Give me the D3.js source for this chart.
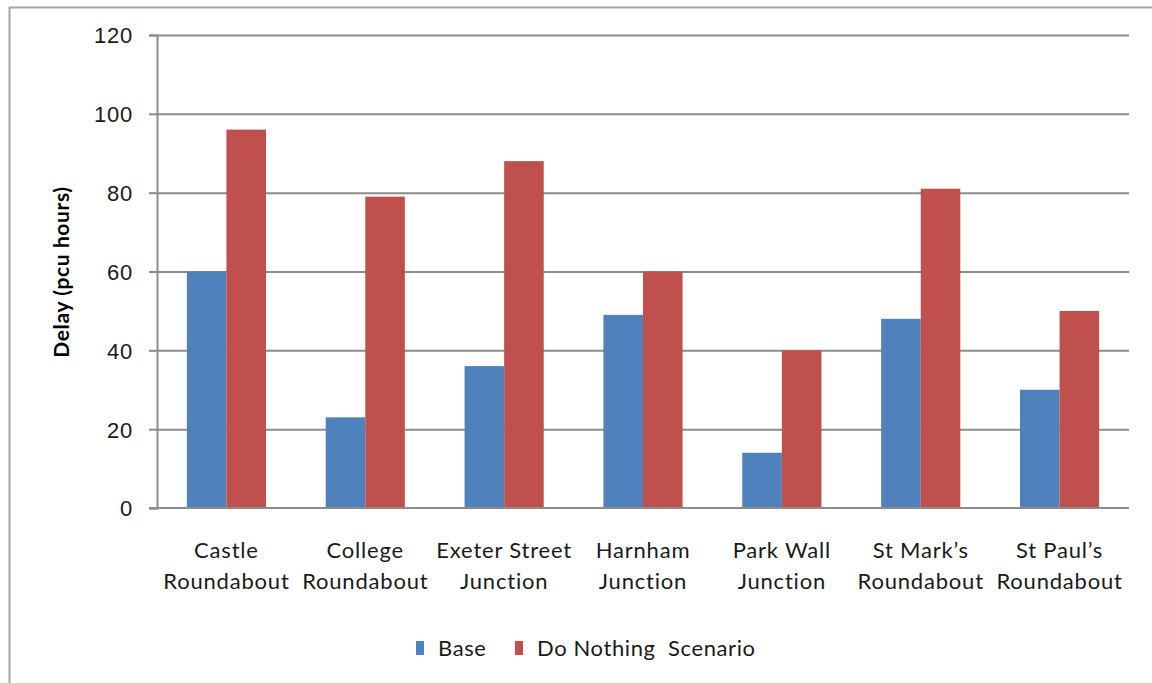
<!DOCTYPE html>
<html>
<head>
<meta charset="utf-8">
<script src="https://cdn.jsdelivr.net/npm/d3@7"></script>
<style>
  body { margin: 0; background: #fff; }
  svg { display: block; font-family: Lato, "Open Sans", sans-serif; }
</style>
</head>
<body>
<div id="chart-container"></div>
<script>
// junction names (two lines each) and delay per scenario, pcu hours
let categories = [
    ["Castle", "Roundabout"],
    ["College", "Roundabout"],
    ["Exeter Street", "Junction"],
    ["Harnham", "Junction"],
    ["Park Wall", "Junction"],
    ["St Mark\u2019s", "Roundabout"],
    ["St Paul\u2019s", "Roundabout"]
];
let seriesNames = ["Base", "Do Nothing  Scenario"];
let baseValues = [60, 23, 36, 49, 14, 48, 30];
let doNothingValues = [96, 79, 88, 60, 40, 81, 50];
let yTicks = [0, 20, 40, 60, 80, 100, 120];
let colors = ["#4F81BD", "#C0504D"];

let width = 1152, height = 683,
    plot = { left: 157, right: 1129, top: 35, bottom: 508 };

let svg = d3.select("#chart-container").append("svg")
    .attr("width", width).attr("height", height);

// outer chart frame
svg.append("path")
    .attr("d", `M9.5,${height}V7.5H${width}`)
    .attr("fill", "none").attr("stroke", "#a6a6a6").attr("stroke-width", 2);

let x0 = d3.scaleBand().domain(d3.range(categories.length))
    .range([plot.left, plot.right]).paddingInner(0.43).paddingOuter(0.215);
let x1 = d3.scaleBand().domain([0, 1]).range([0, x0.bandwidth()]);
let y = d3.scaleLinear().domain([0, 120]).range([plot.bottom, plot.top]);

// gridlines + y axis
let yAxis = svg.append("g")
    .attr("transform", `translate(${plot.left},0)`)
    .call(d3.axisLeft(y).tickValues(yTicks).tickSize(8).tickPadding(16).tickFormat(d3.format("d")));
yAxis.select(".domain").attr("stroke", "#8c8c8c").attr("stroke-width", 2);
yAxis.selectAll(".tick line").attr("stroke", "#8c8c8c").attr("stroke-width", 2);
yAxis.selectAll(".tick text").attr("fill", "#1a1a1a").attr("font-size", 22)
    .attr("letter-spacing", 0.8).attr("dy", "0.36em");
yAxis.selectAll(".tick").filter(d => d > 0).append("line")
    .attr("x1", 0).attr("x2", plot.right - plot.left)
    .attr("stroke", "#8c8c8c").attr("stroke-width", 2);

// bars
let data = categories.map((c, i) => [baseValues[i], doNothingValues[i]]);
svg.append("g").selectAll("g").data(data).join("g")
    .attr("transform", (d, i) => `translate(${x0(i)},0)`)
    .selectAll("rect").data(d => d).join("rect")
    .attr("x", (d, j) => x1(j))
    .attr("y", d => y(d))
    .attr("width", x1.bandwidth())
    .attr("height", d => y(0) - y(d))
    .attr("fill", (d, j) => colors[j]);

// x baseline
svg.append("line")
    .attr("x1", plot.left - 8).attr("x2", plot.right)
    .attr("y1", y(0)).attr("y2", y(0))
    .attr("stroke", "#8c8c8c").attr("stroke-width", 2);

// category labels
let labels = svg.append("g").selectAll("text").data(categories).join("text")
    .attr("text-anchor", "middle")
    .attr("font-size", 22)
    .attr("letter-spacing", 0.8)
    .attr("fill", "#1a1a1a")
    .attr("transform", (d, i) => `translate(${x0(i) + x0.bandwidth() / 2},0)`);
labels.selectAll("tspan").data(d => d).join("tspan")
    .attr("x", 0)
    .attr("y", (d, k) => 558 + k * 31)
    .text(d => d);

// y axis title
svg.append("text")
    .attr("transform", "translate(69,272) rotate(-90)")
    .attr("text-anchor", "middle")
    .attr("font-size", 21)
    .attr("font-weight", "bold")
    .attr("letter-spacing", 0.6)
    .attr("fill", "#000")
    .text("Delay (pcu hours)");

// legend
let legendX = [416, 515];
let legend = svg.append("g").selectAll("g").data(seriesNames).join("g")
    .attr("transform", (d, i) => `translate(${legendX[i]},641)`);
legend.append("rect")
    .attr("width", 8).attr("height", 14)
    .attr("fill", (d, i) => colors[i]);
legend.append("text")
    .attr("x", 22).attr("y", 15)
    .attr("font-size", 22)
    .attr("letter-spacing", 0.6)
    .attr("fill", "#1a1a1a")
    .attr("xml:space", "preserve")
    .style("white-space", "pre")
    .text(d => d);
</script>
</body>
</html>
